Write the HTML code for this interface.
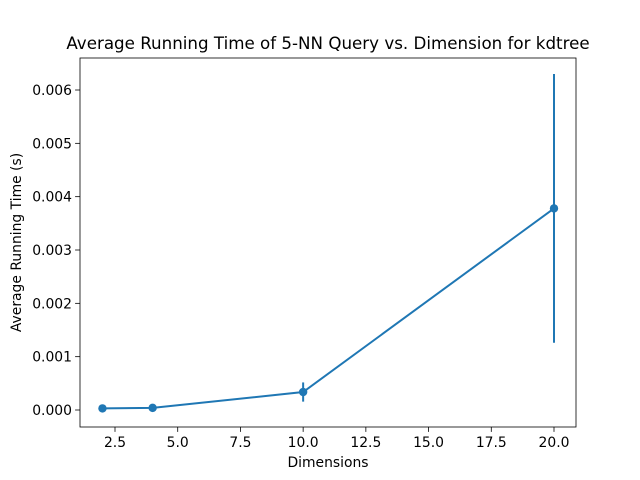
<!DOCTYPE html>
<html><head><meta charset="utf-8"><style>body{margin:0;background:#fff}svg{display:block}</style></head>
<body>
<svg id="chart" width="640" height="480" xmlns="http://www.w3.org/2000/svg" font-family="DejaVu Sans, Liberation Sans, sans-serif">
<rect width="640" height="480" fill="#fff"/>
<g id="plot"></g>
</svg>
<script>
const dims = [2, 4, 10, 20];
const times = [0.00003, 0.00004, 0.000337, 0.00378];
const errs = [0.00001, 0.00001, 0.00018, 0.00252];
const xTicks = [2.5, 5.0, 7.5, 10.0, 12.5, 15.0, 17.5, 20.0];
const yTicks = [0, 0.001, 0.002, 0.003, 0.004, 0.005, 0.006];

const L=80,R=576,T=58,B=427;
const xs=v=>115+(v-2.5)*(554-115)/17.5;
const ys=v=>410-v*53.333*1000;
const NS='http://www.w3.org/2000/svg';
const g=document.getElementById('plot');
function mk(tag,attrs,text){const e=document.createElementNS(NS,tag);for(const k in attrs)e.setAttribute(k,attrs[k]);if(text!==undefined)e.textContent=text;g.appendChild(e);return e;}

let e=mk('rect',{x:L,y:T,width:R-L,height:B-T,fill:'none',stroke:'#000','stroke-width':0.8});



xTicks.forEach(t=>{
  const x=xs(t);
  let l=mk('line',{x1:x,x2:x,y1:B,y2:B+4.9,stroke:'#000','stroke-width':0.8});
  
  
  let tx=mk('text',{x:x,y:B+20,'font-size':13.9,'text-anchor':'middle'},t.toFixed(1));
  
  
});
yTicks.forEach(t=>{
  const y=ys(t);
  let l=mk('line',{x1:L-4.9,x2:L,y1:y,y2:y,stroke:'#000','stroke-width':0.8});
  
  
  let tx=mk('text',{x:L-8,y:y+5,'font-size':13.9,'text-anchor':'end'},t.toFixed(3));
  
  
});

dims.forEach((d,i)=>{
  let l=mk('line',{x1:xs(d),x2:xs(d),y1:ys(times[i]-errs[i]),y2:ys(times[i]+errs[i]),stroke:'#1f77b4','stroke-width':2});
  
  
});
let p=mk('polyline',{points:dims.map((d,i)=>xs(d)+','+ys(times[i])).join(' '),fill:'none',stroke:'#1f77b4','stroke-width':2});


dims.forEach((d,i)=>{
  let c=mk('circle',{cx:xs(d),cy:ys(times[i]),r:4.2,fill:'#1f77b4'});
  
  
});

let tt=mk('text',{x:(L+R)/2,y:49,'font-size':16.7,'text-anchor':'middle'},'Average Running Time of 5-NN Query vs. Dimension for kdtree');


let xl=mk('text',{x:(L+R)/2,y:467,'font-size':13.9,'text-anchor':'middle'},'Dimensions');


let yl=mk('text',{x:0,y:0,'font-size':13.9,'text-anchor':'middle',transform:'translate(21,'+((T+B)/2)+') rotate(-90)'},'Average Running Time (s)');


</script>
</body></html>
